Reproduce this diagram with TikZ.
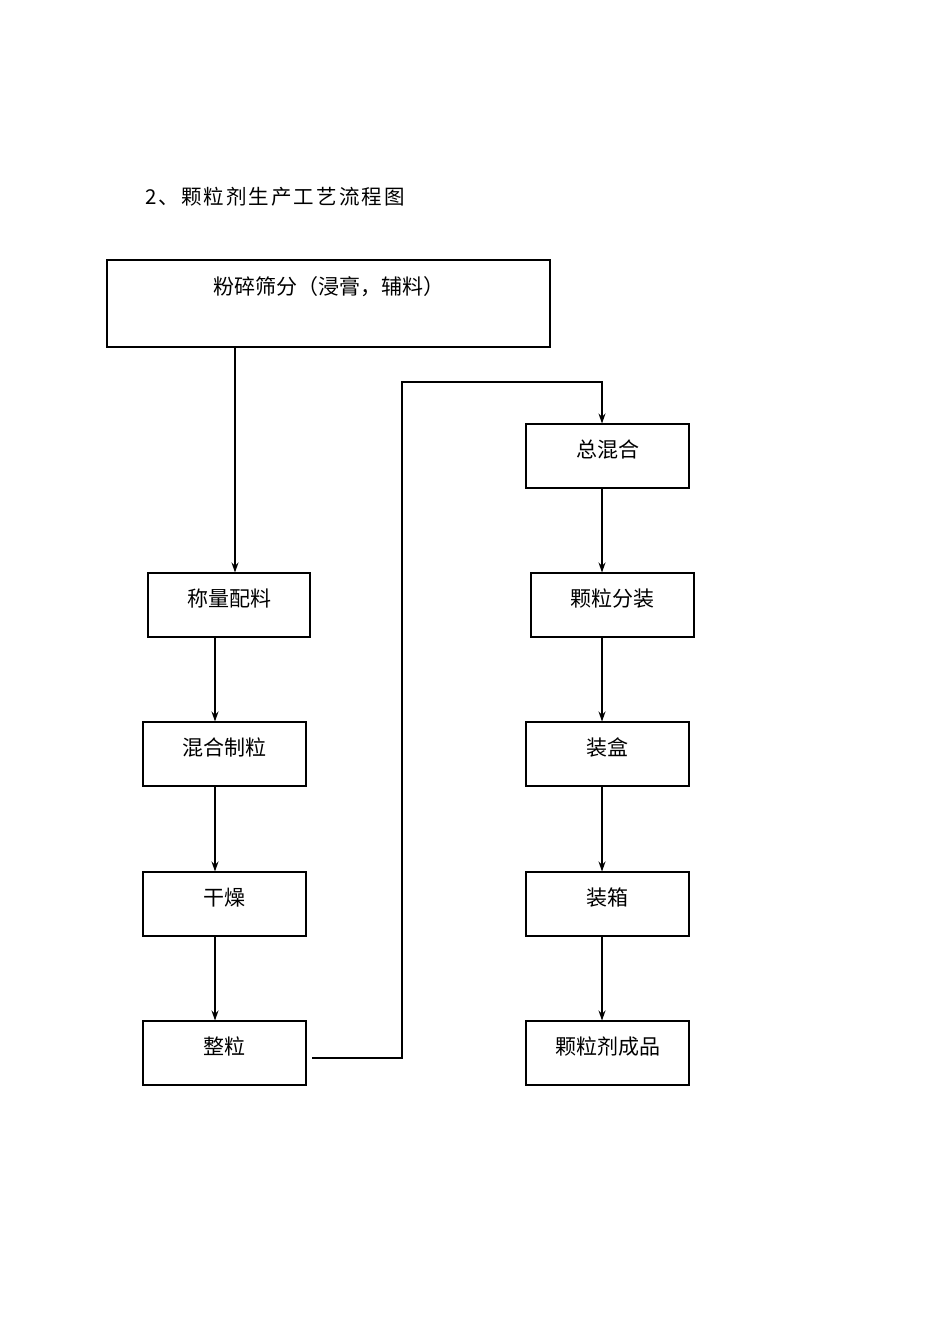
\documentclass[tikz,border=0pt]{standalone}
\usepackage{fontspec}
\newfontfamily\cjk{Noto Sans CJK SC}
\newfontfamily\cjkt{Noto Sans CJK SC}[LetterSpace=10]
\usetikzlibrary{arrows.meta}
\begin{document}
\begin{tikzpicture}[x=1pt,y=-1pt,
  box/.style={draw,line width=1.1pt,inner sep=0pt},
  lab/.style={font=\cjk\fontsize{21}{21}\selectfont,anchor=north,inner sep=0pt},
  arr/.style={line width=1.1pt,-{Stealth[length=10pt,width=7pt]}}]
\useasboundingbox (0,0) rectangle (950,1344);
\node[font=\cjkt\fontsize{20.5}{20.5}\selectfont,inner sep=0pt,anchor=west] at (145,197) {2、颗粒剂生产工艺流程图};
\newcommand{\bx}[6]{\node[box,minimum width=#4-#2,minimum height=#5-#3] (#1) at ({(#2+#4)/2},{(#3+#5)/2}) {};
  \node[lab] at ({(#2+#4)/2},#3+16) {#6};}
\bx{a}{107}{260}{550}{347}{粉碎筛分（浸膏，辅料）}
\bx{b}{148}{573}{310}{637}{称量配料}
\bx{c}{143}{722}{306}{786}{混合制粒}
\bx{d}{143}{872}{306}{936}{干燥}
\bx{e}{143}{1021}{306}{1085}{整粒}
\bx{f}{526}{424}{689}{488}{总混合}
\bx{g}{531}{573}{694}{637}{颗粒分装}
\bx{h}{526}{722}{689}{786}{装盒}
\bx{i}{526}{872}{689}{936}{装箱}
\bx{j}{526}{1021}{689}{1085}{颗粒剂成品}
\draw[arr] (a.south -| 235,0) -- (b.north -| 235,0);
\draw[arr] (b.south -| 215,0) -- (c.north -| 215,0);
\draw[arr] (c.south -| 215,0) -- (d.north -| 215,0);
\draw[arr] (d.south -| 215,0) -- (e.north -| 215,0);
\coordinate (s) at (312,1058);
\draw[arr] (s) -- (402,1058) -- (402,382) -- (602,382) -- (f.north -| 602,0);
\draw[arr] (f.south -| 602,0) -- (g.north -| 602,0);
\draw[arr] (g.south -| 602,0) -- (h.north -| 602,0);
\draw[arr] (h.south -| 602,0) -- (i.north -| 602,0);
\draw[arr] (i.south -| 602,0) -- (j.north -| 602,0);
\end{tikzpicture}
\end{document}
